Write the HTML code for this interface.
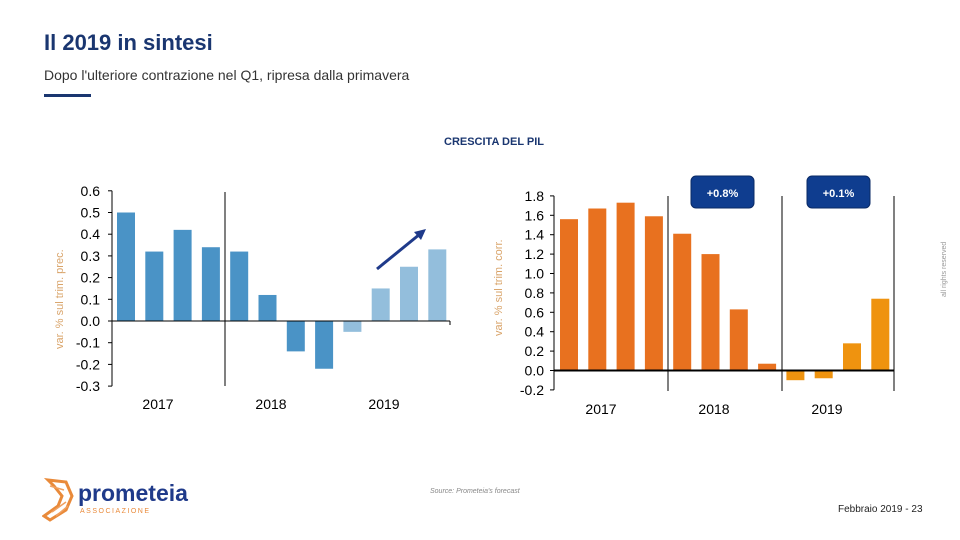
<!DOCTYPE html>
<html><head><meta charset="utf-8"><style>
body{margin:0;width:960px;height:540px;background:#fff;position:relative;overflow:hidden;font-family:"Liberation Sans",sans-serif}
.abs{position:absolute}
</style></head><body>
<div class="abs" style="left:44px;top:30px;font-size:22px;font-weight:bold;color:#1a3670">Il 2019 in sintesi</div>
<div class="abs" style="left:44px;top:67px;font-size:14px;color:#333">Dopo l'ulteriore contrazione nel Q1, ripresa dalla primavera</div>
<div class="abs" style="left:44px;top:94px;width:47px;height:3px;background:#1a3670"></div>
<div class="abs" style="left:444px;top:136px;font-size:11px;font-weight:bold;color:#1a3670">CRESCITA DEL PIL</div>
<div class="abs" style="left:941px;top:297px;font-size:7px;color:#999;transform:rotate(-90deg);transform-origin:0 0;white-space:nowrap">all rights reserved</div>
<div class="abs" style="left:430px;top:488px;font-size:7px;color:#888;font-style:italic">Source: Prometeia's forecast</div>
<div class="abs" style="left:838px;top:504px;font-size:10px;color:#222">Febbraio 2019 - 23</div>
<div class="abs" style="left:42px;top:476px;width:160px;height:48px">
<svg width="34" height="48" style="position:absolute;left:0;top:0"><path d="M6 4 L24 6 L30 20 L24 34 L8 44 L2 40 L16 30 L20 20 L12 10 Z" fill="none" stroke="#e98a3a" stroke-width="3"/><path d="M8 10 L22 14 M10 36 L24 26 M14 40 L26 30" stroke="#f0a060" stroke-width="1.5"/></svg>
<div class="abs" style="left:36px;top:4px;font-size:23px;font-weight:bold;color:#1f3a8a">prometeia</div>
<div class="abs" style="left:38px;top:32px;font-size:7px;letter-spacing:1.5px;color:#e98a3a">ASSOCIAZIONE</div>
</div>
<svg class="abs" style="left:0;top:0" width="960" height="540" id="charts"></svg>
<script>
const categories=["2017Q1","2017Q2","2017Q3","2017Q4","2018Q1","2018Q2","2018Q3","2018Q4","2019Q1","2019Q2","2019Q3","2019Q4"];
const qoqValues=[0.50,0.32,0.42,0.34,0.32,0.12,-0.14,-0.22,-0.05,0.15,0.25,0.33];
const yoyValues=[1.56,1.67,1.73,1.59,1.41,1.20,0.63,0.07,-0.10,-0.08,0.28,0.74];
const leftTicks=[0.6,0.5,0.4,0.3,0.2,0.1,0.0,-0.1,-0.2,-0.3];
const rightTicks=[1.8,1.6,1.4,1.2,1.0,0.8,0.6,0.4,0.2,0.0,-0.2];
const years=["2017","2018","2019"];
const NS="http://www.w3.org/2000/svg";
const svg=document.getElementById('charts');
function mk(t,a,p){const e=document.createElementNS(NS,t);for(const k in a)e.setAttribute(k,a[k]);(p||svg).appendChild(e);return e;}
// left chart
const yL=v=>321-(v)*217;
const xL=i=>126+i*28.3;
mk('line',{x1:112,y1:yL(0.6),x2:112,y2:yL(-0.3),stroke:'#000','stroke-width':1});
mk('line',{x1:225,y1:192,x2:225,y2:386,stroke:'#000','stroke-width':1});
leftTicks.forEach(t=>{mk('line',{x1:108,x2:112,y1:yL(t),y2:yL(t),stroke:'#000'});
const tx=mk('text',{x:100,y:yL(t)+5,'text-anchor':'end','font-size':14,fill:'#000'});tx.textContent=t.toFixed(1);

});
qoqValues.forEach((v,i)=>{const r=mk('rect',{x:xL(i)-9,width:18,y:Math.min(yL(v),yL(0)),height:Math.abs(yL(v)-yL(0)),fill:i>=8?'#93bedc':'#4a93c6'});

});
mk('line',{x1:112,x2:450,y1:yL(0),y2:yL(0),stroke:'#000'});
mk('line',{x1:450,x2:450,y1:yL(0),y2:yL(0)+4,stroke:'#000'});
years.forEach((y,k)=>{const tx=mk('text',{x:158+k*113,y:409,'text-anchor':'middle','font-size':14});tx.textContent=y;

});
mk('line',{x1:377,y1:269,x2:420,y2:234,stroke:'#1f3a8a','stroke-width':3});
mk('polygon',{points:'426,229 414,232 421,240',fill:'#1f3a8a'});
const la=mk('text',{transform:'translate(63,349) rotate(-90)','font-size':11,fill:'#d9a46a'});la.textContent='var. % sul trim. prec.';
// right chart
const yR=v=>370.5-v*97;
const xR=i=>569+i*28.3;
mk('line',{x1:554,y1:yR(1.8),x2:554,y2:yR(-0.2),stroke:'#000'});
[668,782,894].forEach(x=>mk('line',{x1:x,x2:x,y1:196,y2:391,stroke:'#000'}));
rightTicks.forEach(t=>{mk('line',{x1:550,x2:554,y1:yR(t),y2:yR(t),stroke:'#000'});
const tx=mk('text',{x:544,y:yR(t)+5,'text-anchor':'end','font-size':14});tx.textContent=t.toFixed(1);

});
yoyValues.forEach((v,i)=>{const r=mk('rect',{x:xR(i)-9,width:18,y:Math.min(yR(v),yR(0)),height:Math.abs(yR(v)-yR(0)),fill:i>=8?'#ef930f':'#e8711f'});

});
mk('line',{x1:554,x2:894,y1:yR(0),y2:yR(0),stroke:'#000','stroke-width':2});
years.forEach((y,k)=>{const tx=mk('text',{x:601+k*113,y:414,'text-anchor':'middle','font-size':14});tx.textContent=y;

});
const ra=mk('text',{transform:'translate(502,336) rotate(-90)','font-size':11,fill:'#d9a46a'});ra.textContent='var. % sul trim. corr.';
[[691,'+0.8%'],[807,'+0.1%']].forEach(([x,s])=>{const g=mk('g',{});


mk('rect',{x:x,y:176,width:63,height:32,rx:5,fill:'#0f3d8f',stroke:'#0a2a66'},g);
const t=mk('text',{x:x+31.5,y:197,'text-anchor':'middle','font-size':11,fill:'#fff','font-weight':'bold'},g);t.textContent=s;});
</script>
</body></html>
